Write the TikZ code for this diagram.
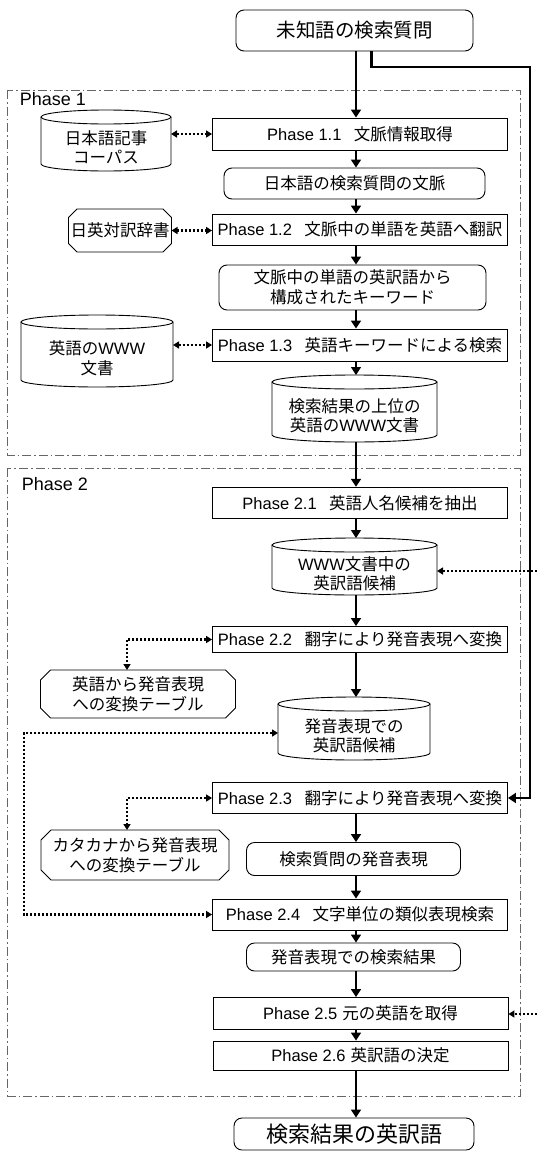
\documentclass[tikz,border=0pt]{standalone}
\usepackage{fontspec}
\setmainfont{Noto Sans CJK JP}
\newfontfamily\lat{Liberation Sans}
\usetikzlibrary{arrows.meta,calc}
\newcommand\fs{\fontsize{16.5}{19.5}\selectfont}
\newcommand\ph[1]{{\lat Phase #1}}
\newcommand\www{{\lat WWW}}
\newcommand\cylpath[3]{%
  \draw[line width=0.9pt] ([yshift=#3]#1.north west) -- ([yshift=#3]#1.south west)
     arc[start angle=180,end angle=360,x radius=#2,y radius=#3] -- ([yshift=#3]#1.north east);
  \draw[line width=0.9pt] ([yshift=#3]#1.north) ellipse[x radius=#2,y radius=#3];}
\newcommand\octpath[2]{%
  \draw[line width=0.9pt] ([xshift=#2]#1.north west) -- ([xshift=-#2]#1.north east)
    -- ([yshift=-#2]#1.north east) -- ([yshift=#2]#1.south east)
    -- ([xshift=-#2]#1.south east) -- ([xshift=#2]#1.south west)
    -- ([yshift=#2]#1.south west) -- ([yshift=-#2]#1.north west) -- cycle;}
\tikzset{
  box/.style={draw, line width=0.9pt, minimum width=295pt, minimum height=31pt, inner sep=0pt, font=\fs, align=center},
  rbox/.style={box, rounded corners=8pt},
  cylnode/.style={inner sep=0pt, outer sep=0pt, font=\fs, align=center},
  octnode/.style={inner sep=0pt, outer sep=0pt, font=\fs, align=center},
  mainarrow/.style={line width=1.6pt, -{Triangle[length=8pt,width=10pt]}},
  thickarrow/.style={line width=2.2pt, -{Triangle[length=8pt,width=10pt]}},
  dots/.style={line width=2.2pt, dash pattern=on 2pt off 2pt, {Triangle[length=6pt,width=7pt]}-{Triangle[length=6pt,width=7pt]}},
  dotone/.style={line width=2.2pt, dash pattern=on 2pt off 2pt, -{Triangle[length=6pt,width=7pt]}},
  frame/.style={draw=black!60, line width=0.9pt, dash pattern=on 9pt off 3pt on 1.5pt off 3pt},
  phaselabel/.style={font=\lat\fontsize{18}{20}\selectfont, inner sep=0pt}
}
\begin{document}
\begin{tikzpicture}[x=1pt,y=-1pt]
\useasboundingbox (0,0) rectangle (537,1151);
% frames
\draw[frame] (7.5,90) rectangle (520,455);
\draw[frame] (7.5,468) rectangle (520,1096);
\node[phaselabel] (ph1) at (53,99) {Phase 1};
\node[phaselabel] (ph2) at (55,484) {Phase 2};
\coordinate (col) at (356,0);
% main column
\node[rbox, minimum width=237pt, minimum height=41pt, font=\fontsize{19.5}{22}\selectfont] (top) at (354.5,30.5) {未知語の検索質問};
\node[box, minimum height=32pt] (p11) at (360,134) {\ph{1.1}\hspace{0.75em}文脈情報取得};
\node[rbox, minimum width=261pt] (ctx) at (354.5,183.5) {日本語の検索質問の文脈};
\node[box] (p12) at (360,229.5) {\ph{1.2}\hspace{0.75em}文脈中の単語を英語へ翻訳};
\node[rbox, minimum width=267pt, minimum height=45pt] (kw) at (352.5,287.5) {文脈中の単語の英訳語から\\構成されたキーワード};
\node[box, minimum height=32pt] (p13) at (360,345) {\ph{1.3}\hspace{0.75em}英語キーワードによる検索};
\node[cylnode, minimum width=165pt, minimum height=53pt] (res) at (354.5,415.5) {検索結果の上位の\\英語の\www 文書};
\node[box, minimum height=31.5pt] (p21) at (360,503) {\ph{2.1}\hspace{0.75em}英語人名候補を抽出};
\node[cylnode, minimum width=165pt, minimum height=43pt] (cand) at (354.5,573.5) {\www 文書中の\\英訳語候補};
\node[box, minimum height=26pt] (p22) at (360,639.5) {\ph{2.2}\hspace{0.75em}翻字により発音表現へ変換};
\node[cylnode, minimum width=152pt, minimum height=49pt] (pron) at (354,735.5) {発音表現での\\英訳語候補};
\node[box] (p23) at (360,798) {\ph{2.3}\hspace{0.75em}翻字により発音表現へ変換};
\node[rbox, minimum width=214pt, minimum height=33pt] (qpron) at (353.5,859) {検索質問の発音表現};
\node[box] (p24) at (360,914.5) {\ph{2.4}\hspace{0.75em}文字単位の類似表現検索};
\node[rbox, minimum width=214pt, minimum height=28pt] (sres) at (353.5,957) {発音表現での検索結果};
\node[box, minimum height=32pt] (p25) at (360.5,1013.5) {\ph{2.5}\hspace{0.3em}元の英語を取得};
\node[box, minimum height=29pt] (p26) at (360.5,1055.5) {\ph{2.6}\hspace{0.3em}英訳語の決定};
\node[rbox, minimum width=240pt, minimum height=32pt, font=\fontsize{22}{24}\selectfont] (final) at (354,1134) {検索結果の英訳語};
% side resources
\node[cylnode, minimum width=130pt, minimum height=47pt] (c1) at (106,147.5) {日本語記事\\コーパス};
\node[octnode, minimum width=103pt, minimum height=43pt] (dict) at (120,230.5) {日英対訳辞書};
\node[cylnode, minimum width=152pt, minimum height=58pt] (c3) at (97,358) {英語の\www\\文書};
\node[octnode, minimum width=195pt, minimum height=48pt] (tbl1) at (138,694) {英語から発音表現\\への変換テーブル};
\node[octnode, minimum width=188pt, minimum height=50pt] (tbl2) at (135,855) {カタカナから発音表現\\への変換テーブル};
% shapes
\cylpath{c1}{65pt}{7pt}
\cylpath{c3}{76pt}{7pt}
\cylpath{res}{82.5pt}{7pt}
\cylpath{cand}{82.5pt}{7pt}
\cylpath{pron}{76pt}{7pt}
\octpath{dict}{8.5pt}
\octpath{tbl1}{10pt}
\octpath{tbl2}{10pt}
\coordinate (restop) at ([yshift=14pt]res.north);
\coordinate (candtop) at ([yshift=14pt]cand.north);
\coordinate (prontop) at ([yshift=14pt]pron.north);
% main arrows
\draw[mainarrow] (top.south -| col) -- (p11.north -| col);
\draw[mainarrow] (p11.south -| col) -- (ctx.north -| col);
\draw[mainarrow] (ctx.south -| col) -- (p12.north -| col);
\draw[mainarrow] (p12.south -| col) -- (kw.north -| col);
\draw[mainarrow] (kw.south -| col) -- (p13.north -| col);
\draw[mainarrow] (p13.south -| col) -- (restop -| col);
\draw[mainarrow] (res.south -| col) -- (p21.north -| col);
\draw[mainarrow] (p21.south -| col) -- (candtop -| col);
\draw[mainarrow] (cand.south -| col) -- (p22.north -| col);
\draw[mainarrow] (p22.south -| col) -- (prontop -| col);
\draw[mainarrow] (p23.south -| col) -- (qpron.north -| col);
\draw[mainarrow] (qpron.south -| col) -- (p24.north -| col);
\draw[mainarrow] (p24.south -| col) -- (sres.north -| col);
\draw[mainarrow] (sres.south -| col) -- (p25.north -| col);
\draw[mainarrow] (p25.south -| col) -- (p26.north -| col);
\draw[mainarrow] (p26.south -| col) -- (final.north -| col);
% thick bypass
\coordinate (T0) at ([xshift=17pt]top.south);
\coordinate (T1) at (530,67);
\draw[thickarrow] (T0) |- (T1) |- (p23.east);
% dotted links
\draw[dots] (c1.east |- p11.west) -- (p11.west);
\draw[dots] (dict.east) -- (dict.east -| p12.west);
\draw[dots] (c3.east |- p13.west) -- (p13.west);
\coordinate (k1) at ([xshift=-11pt]tbl1.north);
\coordinate (k2) at ([xshift=-8pt]tbl2.north);
\draw[dots] (p22.west) -- (p22.west -| k1) -- (k1);
\draw[dots] (p23.west) -- (p23.west -| k2) -- (k2);
\coordinate (L) at (24,0);
\draw[dots] ([yshift=2.5pt]pron.west) -- ([yshift=2.5pt]pron.west -| L) -- (L |- p24.west) -- (p24.west);
\coordinate (R1) at (537,571);
\coordinate (R2) at (537,1014);
\draw[dotone] (R1) -- (R1 -| cand.east);
\draw[dotone] (R2) -- (R2 -| p25.east);
\end{tikzpicture}
\end{document}
